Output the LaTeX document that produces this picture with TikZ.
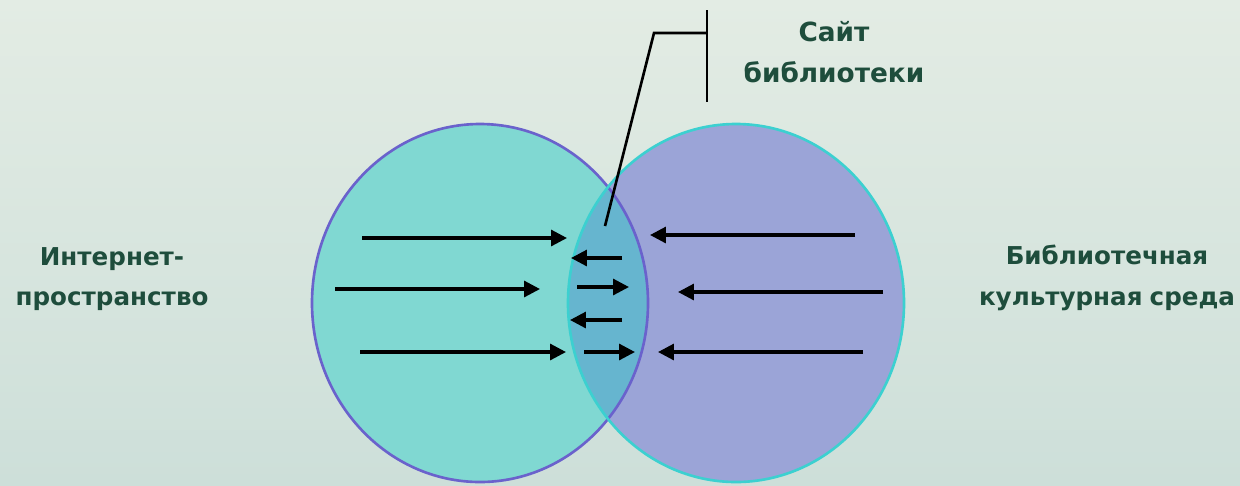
\documentclass[tikz,border=0pt]{standalone}
\usepackage{fontspec}
\setmainfont{DejaVu Sans}
\usepackage{tikz}
\usetikzlibrary{arrows.meta,shapes.geometric}
\definecolor{bgtop}{RGB}{227,236,228}
\definecolor{bgbot}{RGB}{205,223,217}
\definecolor{inetfill}{RGB}{128,216,210}
\definecolor{inetline}{RGB}{106,98,204}
\definecolor{libfill}{RGB}{155,164,215}
\definecolor{libline}{RGB}{60,208,208}
\definecolor{lensfill}{RGB}{102,181,207}
\definecolor{labelgreen}{RGB}{30,77,60}
\newlength{\pxu}
\setlength{\pxu}{0.02cm}
\tikzset{
    %Define standard arrow tip
    >={Triangle[length=9pt,width=9pt]},
    %Define style for the two areas
    area/.style={
           ellipse,
           minimum width=336\pxu,
           minimum height=358\pxu,
           inner sep=0pt},
    %Define style for labels
    lbl/.style={
           text=labelgreen,
           font=\fontsize{14}{23}\selectfont\bfseries,
           align=center},
    % Define arrow style
    pil/.style={
           ->,
           line width=1.8pt}
}
\begin{document}
\begin{tikzpicture}[x=0.02cm,y=-0.02cm]
\useasboundingbox (0,0) rectangle (1240,485);
% background
\shade[top color=bgtop,bottom color=bgbot] (0,0) rectangle (1240,485);
% the two areas
\node[area,fill=inetfill](inet) at (480,303){};
\node[area,fill=libfill](lib) at (736,303){};
\begin{scope}
  \clip (480,303) ellipse (168 and 179);
  \fill[lensfill] (736,303) ellipse (168 and 179);
\end{scope}
\draw[inetline,line width=1.5pt] (480,303) ellipse (168 and 179);
\draw[libline,line width=1.5pt] (736,303) ellipse (168 and 179);
% arrows
\foreach \n/\xa/\xb/\y in {1/362/567/238, 2/855/650/235, 3/622/571/258,
    4/335/540/289, 5/577/629/287, 6/883/678/292, 7/622/570/320,
    8/360/566/352, 9/584/635/352, 10/863/658/352}{
  \coordinate (s\n) at (\xa,\y);
  \coordinate (e\n) at (\xb,\y);
  \draw[pil] (s\n) -- (e\n);
}
% callout
\coordinate (tip) at (605,226);
\coordinate (knee) at (654,33);
\coordinate (bartop) at (707,10);
\coordinate (barbot) at (707,102);
\coordinate (barmid) at (707,33);
\draw[line width=1.5pt] (tip) -- (knee) -- (barmid);
\draw[line width=1.5pt] (bartop) -- (barbot);
% labels
\node[lbl,font=\fontsize{15}{23}\selectfont\bfseries](site) at (834,52){Сайт\\библиотеки};
\node[lbl](net) at (112,279){Интернет-\\пространство};
\node[lbl](libenv) at (1107,278){Библиотечная\\культурная\hspace{-0.06em} среда};
\end{tikzpicture}
\end{document}
